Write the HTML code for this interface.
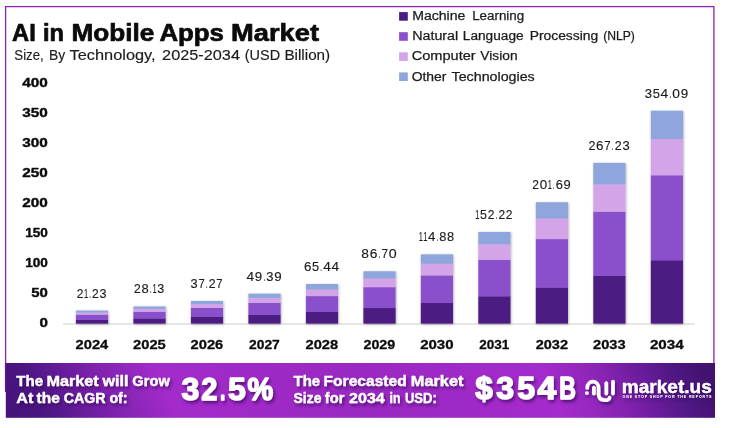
<!DOCTYPE html>
<html lang="en"><head><meta charset="utf-8"><title>AI in Mobile Apps Market</title>
<style>html,body{margin:0;padding:0;background:#fff}body{width:729px;height:428px;overflow:hidden}svg{display:block}text{font-family:"Liberation Sans", sans-serif;white-space:pre}.b{font-weight:700}</style>
</head><body>
<svg width="729" height="428" viewBox="0 0 729 428">
<defs>
<linearGradient id="bg" x1="5" y1="390" x2="595.4" y2="124.3" gradientUnits="userSpaceOnUse"><stop offset="0" stop-color="#46137c"/><stop offset="0.04" stop-color="#4b1583"/><stop offset="0.13" stop-color="#7a20aa"/><stop offset="0.225" stop-color="#a32bcb"/><stop offset="0.5" stop-color="#9a28c2"/><stop offset="0.77" stop-color="#a42bcc"/><stop offset="0.85" stop-color="#8a24b4"/><stop offset="0.905" stop-color="#6a1c9c"/><stop offset="0.955" stop-color="#4e1782"/><stop offset="1" stop-color="#41126f"/></linearGradient>
<filter id="sh" x="-20%" y="-20%" width="140%" height="140%"><feDropShadow dx="0.6" dy="0.8" stdDeviation="1" flood-color="#000" flood-opacity="0.35"/></filter>
<filter id="ts" x="-10%" y="-20%" width="120%" height="150%"><feDropShadow dx="1.7" dy="2.5" stdDeviation="1.5" flood-color="#2a0050" flood-opacity="0.6"/></filter>
</defs>
<rect width="729" height="428" fill="#fff"/>
<rect x="5.6" y="6.6" width="708.3" height="380" fill="#fff" stroke="#8e24aa" stroke-width="1.3"/>
<rect x="5.8" y="363" width="709.2" height="54.8" fill="url(#bg)"/>
<rect x="4.95" y="363" width="1.3" height="29" fill="#5a1a96"/>
<text y="40.8" font-size="23.8" class="b" fill="#0b0b0b" stroke="#0b0b0b" stroke-width="0.7" stroke-linejoin="round"><tspan x="12.08" textLength="23.71" lengthAdjust="spacingAndGlyphs">AI</tspan> <tspan x="42.97" textLength="21.00" lengthAdjust="spacingAndGlyphs">in</tspan> <tspan x="71.48" textLength="82.90" lengthAdjust="spacingAndGlyphs">Mobile</tspan> <tspan x="159.48" textLength="64.51" lengthAdjust="spacingAndGlyphs">Apps</tspan> <tspan x="231.08" textLength="87.90" lengthAdjust="spacingAndGlyphs">Market</tspan></text>
<text y="59.8" font-size="13.8" fill="#1c1c1c" stroke="#1c1c1c" stroke-width="0.15" stroke-linejoin="round"><tspan x="14.34" textLength="29.34" lengthAdjust="spacingAndGlyphs">Size,</tspan> <tspan x="48.94" textLength="16.14" lengthAdjust="spacingAndGlyphs">By</tspan> <tspan x="69.64" textLength="85.93" lengthAdjust="spacingAndGlyphs">Technology,</tspan> <tspan x="162.14" textLength="77.84" lengthAdjust="spacingAndGlyphs">2025-2034</tspan> <tspan x="244.74" textLength="35.34" lengthAdjust="spacingAndGlyphs">(USD</tspan> <tspan x="284.44" textLength="45.74" lengthAdjust="spacingAndGlyphs">Billion)</tspan></text>
<text y="327.2" font-size="13.3" class="b" fill="#0b0b0b" stroke="#0b0b0b" stroke-width="0.4" stroke-linejoin="round"><tspan x="39.40" textLength="8.44" lengthAdjust="spacingAndGlyphs">0</tspan></text>
<text y="297.1" font-size="13.3" class="b" fill="#0b0b0b" stroke="#0b0b0b" stroke-width="0.4" stroke-linejoin="round"><tspan x="31.20" textLength="16.64" lengthAdjust="spacingAndGlyphs">50</tspan></text>
<text y="267.1" font-size="13.3" class="b" fill="#0b0b0b" stroke="#0b0b0b" stroke-width="0.4" stroke-linejoin="round"><tspan x="25.20" textLength="22.64" lengthAdjust="spacingAndGlyphs">100</tspan></text>
<text y="237.0" font-size="13.3" class="b" fill="#0b0b0b" stroke="#0b0b0b" stroke-width="0.4" stroke-linejoin="round"><tspan x="25.20" textLength="22.64" lengthAdjust="spacingAndGlyphs">150</tspan></text>
<text y="206.9" font-size="13.3" class="b" fill="#0b0b0b" stroke="#0b0b0b" stroke-width="0.4" stroke-linejoin="round"><tspan x="22.30" textLength="25.54" lengthAdjust="spacingAndGlyphs">200</tspan></text>
<text y="176.8" font-size="13.3" class="b" fill="#0b0b0b" stroke="#0b0b0b" stroke-width="0.4" stroke-linejoin="round"><tspan x="22.30" textLength="25.54" lengthAdjust="spacingAndGlyphs">250</tspan></text>
<text y="146.8" font-size="13.3" class="b" fill="#0b0b0b" stroke="#0b0b0b" stroke-width="0.4" stroke-linejoin="round"><tspan x="22.30" textLength="25.54" lengthAdjust="spacingAndGlyphs">300</tspan></text>
<text y="116.7" font-size="13.3" class="b" fill="#0b0b0b" stroke="#0b0b0b" stroke-width="0.4" stroke-linejoin="round"><tspan x="22.30" textLength="25.54" lengthAdjust="spacingAndGlyphs">350</tspan></text>
<text y="86.6" font-size="13.3" class="b" fill="#0b0b0b" stroke="#0b0b0b" stroke-width="0.4" stroke-linejoin="round"><tspan x="22.30" textLength="25.54" lengthAdjust="spacingAndGlyphs">400</tspan></text>
<rect x="63.2" y="323.4" width="631.5" height="1.2" fill="#d6d6d6"/>
<g filter="url(#sh)">
<rect x="75.9" y="319.51" width="32.2" height="4.09" fill="#4b1a82"/>
<rect x="75.9" y="314.42" width="32.2" height="5.40" fill="#8a4fcb"/>
<rect x="75.9" y="312.24" width="32.2" height="2.48" fill="#d3a5e8"/>
<rect x="75.9" y="310.55" width="32.2" height="1.98" fill="#8fa6dc"/>
<rect x="133.4" y="318.28" width="32.2" height="5.32" fill="#4b1a82"/>
<rect x="133.4" y="311.53" width="32.2" height="7.06" fill="#8a4fcb"/>
<rect x="133.4" y="308.64" width="32.2" height="3.19" fill="#d3a5e8"/>
<rect x="133.4" y="306.41" width="32.2" height="2.53" fill="#8fa6dc"/>
<rect x="190.9" y="316.65" width="32.2" height="6.95" fill="#4b1a82"/>
<rect x="190.9" y="307.70" width="32.2" height="9.25" fill="#8a4fcb"/>
<rect x="190.9" y="303.88" width="32.2" height="4.13" fill="#d3a5e8"/>
<rect x="190.9" y="300.92" width="32.2" height="3.25" fill="#8fa6dc"/>
<rect x="248.4" y="314.49" width="32.2" height="9.11" fill="#4b1a82"/>
<rect x="248.4" y="302.63" width="32.2" height="12.16" fill="#8a4fcb"/>
<rect x="248.4" y="297.56" width="32.2" height="5.37" fill="#d3a5e8"/>
<rect x="248.4" y="293.65" width="32.2" height="4.21" fill="#8fa6dc"/>
<rect x="305.9" y="311.63" width="32.2" height="11.97" fill="#4b1a82"/>
<rect x="305.9" y="295.91" width="32.2" height="16.02" fill="#8a4fcb"/>
<rect x="305.9" y="289.20" width="32.2" height="7.02" fill="#d3a5e8"/>
<rect x="305.9" y="284.01" width="32.2" height="5.49" fill="#8fa6dc"/>
<rect x="363.4" y="307.84" width="32.2" height="15.76" fill="#4b1a82"/>
<rect x="363.4" y="287.02" width="32.2" height="21.12" fill="#8a4fcb"/>
<rect x="363.4" y="278.12" width="32.2" height="9.20" fill="#d3a5e8"/>
<rect x="363.4" y="271.25" width="32.2" height="7.17" fill="#8fa6dc"/>
<rect x="420.8" y="302.81" width="32.2" height="20.79" fill="#4b1a82"/>
<rect x="420.8" y="275.23" width="32.2" height="27.89" fill="#8a4fcb"/>
<rect x="420.8" y="263.43" width="32.2" height="12.09" fill="#d3a5e8"/>
<rect x="420.8" y="254.33" width="32.2" height="9.40" fill="#8fa6dc"/>
<rect x="478.3" y="296.16" width="32.2" height="27.44" fill="#4b1a82"/>
<rect x="478.3" y="259.60" width="32.2" height="36.86" fill="#8a4fcb"/>
<rect x="478.3" y="243.97" width="32.2" height="15.93" fill="#d3a5e8"/>
<rect x="478.3" y="231.91" width="32.2" height="12.36" fill="#8fa6dc"/>
<rect x="535.8" y="287.33" width="32.2" height="36.27" fill="#4b1a82"/>
<rect x="535.8" y="238.90" width="32.2" height="48.74" fill="#8a4fcb"/>
<rect x="535.8" y="218.19" width="32.2" height="21.01" fill="#d3a5e8"/>
<rect x="535.8" y="202.21" width="32.2" height="16.28" fill="#8fa6dc"/>
<rect x="593.3" y="275.65" width="32.2" height="47.95" fill="#4b1a82"/>
<rect x="593.3" y="211.47" width="32.2" height="64.48" fill="#8a4fcb"/>
<rect x="593.3" y="184.03" width="32.2" height="27.74" fill="#d3a5e8"/>
<rect x="593.3" y="162.86" width="32.2" height="21.48" fill="#8fa6dc"/>
<rect x="650.8" y="260.16" width="32.2" height="63.44" fill="#4b1a82"/>
<rect x="650.8" y="175.12" width="32.2" height="85.34" fill="#8a4fcb"/>
<rect x="650.8" y="138.77" width="32.2" height="36.65" fill="#d3a5e8"/>
<rect x="650.8" y="110.70" width="32.2" height="28.36" fill="#8fa6dc"/>
</g>
<text y="297.6" font-size="13.3" fill="#1c1c1c" stroke="#1c1c1c" stroke-width="0.15" stroke-linejoin="round"><tspan x="76.74" textLength="6.72" lengthAdjust="spacingAndGlyphs">2</tspan><tspan x="84.02" textLength="4.20" lengthAdjust="spacingAndGlyphs">1</tspan><tspan x="89.23" textLength="1.54" lengthAdjust="spacingAndGlyphs">.</tspan><tspan x="91.99" textLength="6.72" lengthAdjust="spacingAndGlyphs">2</tspan><tspan x="99.47" textLength="7.01" lengthAdjust="spacingAndGlyphs">3</tspan></text>
<text y="349.2" font-size="13.4" class="b" fill="#0b0b0b" stroke="#0b0b0b" stroke-width="0.3" stroke-linejoin="round"><tspan x="75.58" textLength="32.67" lengthAdjust="spacingAndGlyphs">2024</tspan></text>
<text y="293.4" font-size="13.3" fill="#1c1c1c" stroke="#1c1c1c" stroke-width="0.15" stroke-linejoin="round"><tspan x="133.93" textLength="6.75" lengthAdjust="spacingAndGlyphs">2</tspan><tspan x="141.43" textLength="7.23" lengthAdjust="spacingAndGlyphs">8</tspan><tspan x="149.88" textLength="1.55" lengthAdjust="spacingAndGlyphs">.</tspan><tspan x="152.45" textLength="4.22" lengthAdjust="spacingAndGlyphs">1</tspan><tspan x="157.23" textLength="7.04" lengthAdjust="spacingAndGlyphs">3</tspan></text>
<text y="349.2" font-size="13.4" class="b" fill="#0b0b0b" stroke="#0b0b0b" stroke-width="0.3" stroke-linejoin="round"><tspan x="133.06" textLength="32.67" lengthAdjust="spacingAndGlyphs">2025</tspan></text>
<text y="287.9" font-size="13.3" fill="#1c1c1c" stroke="#1c1c1c" stroke-width="0.15" stroke-linejoin="round"><tspan x="190.57" textLength="7.14" lengthAdjust="spacingAndGlyphs">3</tspan><tspan x="198.47" textLength="6.25" lengthAdjust="spacingAndGlyphs">7</tspan><tspan x="205.94" textLength="1.60" lengthAdjust="spacingAndGlyphs">.</tspan><tspan x="208.75" textLength="6.85" lengthAdjust="spacingAndGlyphs">2</tspan><tspan x="216.35" textLength="6.25" lengthAdjust="spacingAndGlyphs">7</tspan></text>
<text y="349.2" font-size="13.4" class="b" fill="#0b0b0b" stroke="#0b0b0b" stroke-width="0.3" stroke-linejoin="round"><tspan x="190.55" textLength="32.67" lengthAdjust="spacingAndGlyphs">2026</tspan></text>
<text y="280.6" font-size="13.3" fill="#1c1c1c" stroke="#1c1c1c" stroke-width="0.15" stroke-linejoin="round"><tspan x="246.46" textLength="7.65" lengthAdjust="spacingAndGlyphs">4</tspan><tspan x="254.87" textLength="7.41" lengthAdjust="spacingAndGlyphs">9</tspan><tspan x="263.49" textLength="1.62" lengthAdjust="spacingAndGlyphs">.</tspan><tspan x="266.32" textLength="7.21" lengthAdjust="spacingAndGlyphs">3</tspan><tspan x="274.29" textLength="7.41" lengthAdjust="spacingAndGlyphs">9</tspan></text>
<text y="349.2" font-size="13.4" class="b" fill="#0b0b0b" stroke="#0b0b0b" stroke-width="0.3" stroke-linejoin="round"><tspan x="249.00" textLength="30.77" lengthAdjust="spacingAndGlyphs">2027</tspan></text>
<text y="271.0" font-size="13.3" fill="#1c1c1c" stroke="#1c1c1c" stroke-width="0.15" stroke-linejoin="round"><tspan x="303.95" textLength="7.37" lengthAdjust="spacingAndGlyphs">6</tspan><tspan x="312.08" textLength="7.07" lengthAdjust="spacingAndGlyphs">5</tspan><tspan x="320.36" textLength="1.61" lengthAdjust="spacingAndGlyphs">.</tspan><tspan x="323.19" textLength="7.62" lengthAdjust="spacingAndGlyphs">4</tspan><tspan x="331.57" textLength="7.62" lengthAdjust="spacingAndGlyphs">4</tspan></text>
<text y="349.2" font-size="13.4" class="b" fill="#0b0b0b" stroke="#0b0b0b" stroke-width="0.3" stroke-linejoin="round"><tspan x="305.53" textLength="32.67" lengthAdjust="spacingAndGlyphs">2028</tspan></text>
<text y="258.2" font-size="13.3" fill="#1c1c1c" stroke="#1c1c1c" stroke-width="0.15" stroke-linejoin="round"><tspan x="361.34" textLength="7.66" lengthAdjust="spacingAndGlyphs">8</tspan><tspan x="369.76" textLength="7.66" lengthAdjust="spacingAndGlyphs">6</tspan><tspan x="378.63" textLength="1.73" lengthAdjust="spacingAndGlyphs">.</tspan><tspan x="381.57" textLength="6.53" lengthAdjust="spacingAndGlyphs">7</tspan><tspan x="388.86" textLength="7.92" lengthAdjust="spacingAndGlyphs">0</tspan></text>
<text y="349.2" font-size="13.4" class="b" fill="#0b0b0b" stroke="#0b0b0b" stroke-width="0.3" stroke-linejoin="round"><tspan x="363.43" textLength="31.87" lengthAdjust="spacingAndGlyphs">2029</tspan></text>
<text y="241.3" font-size="13.3" fill="#1c1c1c" stroke="#1c1c1c" stroke-width="0.15" stroke-linejoin="round"><tspan x="418.63" textLength="4.17" lengthAdjust="spacingAndGlyphs">1</tspan><tspan x="423.16" textLength="4.17" lengthAdjust="spacingAndGlyphs">1</tspan><tspan x="427.89" textLength="7.39" lengthAdjust="spacingAndGlyphs">4</tspan><tspan x="436.49" textLength="1.52" lengthAdjust="spacingAndGlyphs">.</tspan><tspan x="439.22" textLength="7.14" lengthAdjust="spacingAndGlyphs">8</tspan><tspan x="447.12" textLength="7.14" lengthAdjust="spacingAndGlyphs">8</tspan></text>
<text y="349.2" font-size="13.4" class="b" fill="#0b0b0b" stroke="#0b0b0b" stroke-width="0.3" stroke-linejoin="round"><tspan x="420.17" textLength="33.37" lengthAdjust="spacingAndGlyphs">2030</tspan></text>
<text y="218.9" font-size="13.3" fill="#1c1c1c" stroke="#1c1c1c" stroke-width="0.15" stroke-linejoin="round"><tspan x="475.37" textLength="4.18" lengthAdjust="spacingAndGlyphs">1</tspan><tspan x="480.11" textLength="6.88" lengthAdjust="spacingAndGlyphs">5</tspan><tspan x="487.75" textLength="6.68" lengthAdjust="spacingAndGlyphs">2</tspan><tspan x="495.64" textLength="1.53" lengthAdjust="spacingAndGlyphs">.</tspan><tspan x="498.38" textLength="6.68" lengthAdjust="spacingAndGlyphs">2</tspan><tspan x="505.82" textLength="6.68" lengthAdjust="spacingAndGlyphs">2</tspan></text>
<text y="349.2" font-size="13.4" class="b" fill="#0b0b0b" stroke="#0b0b0b" stroke-width="0.3" stroke-linejoin="round"><tspan x="479.31" textLength="30.07" lengthAdjust="spacingAndGlyphs">2031</tspan></text>
<text y="189.2" font-size="13.3" fill="#1c1c1c" stroke="#1c1c1c" stroke-width="0.15" stroke-linejoin="round"><tspan x="532.31" textLength="6.68" lengthAdjust="spacingAndGlyphs">2</tspan><tspan x="539.75" textLength="7.41" lengthAdjust="spacingAndGlyphs">0</tspan><tspan x="547.72" textLength="4.18" lengthAdjust="spacingAndGlyphs">1</tspan><tspan x="552.91" textLength="1.53" lengthAdjust="spacingAndGlyphs">.</tspan><tspan x="555.65" textLength="7.17" lengthAdjust="spacingAndGlyphs">6</tspan><tspan x="563.58" textLength="7.17" lengthAdjust="spacingAndGlyphs">9</tspan></text>
<text y="349.2" font-size="13.4" class="b" fill="#0b0b0b" stroke="#0b0b0b" stroke-width="0.3" stroke-linejoin="round"><tspan x="535.70" textLength="32.27" lengthAdjust="spacingAndGlyphs">2032</tspan></text>
<text y="149.9" font-size="13.3" fill="#1c1c1c" stroke="#1c1c1c" stroke-width="0.15" stroke-linejoin="round"><tspan x="588.40" textLength="6.94" lengthAdjust="spacingAndGlyphs">2</tspan><tspan x="596.10" textLength="7.44" lengthAdjust="spacingAndGlyphs">6</tspan><tspan x="604.30" textLength="6.34" lengthAdjust="spacingAndGlyphs">7</tspan><tspan x="611.85" textLength="1.64" lengthAdjust="spacingAndGlyphs">.</tspan><tspan x="614.70" textLength="6.94" lengthAdjust="spacingAndGlyphs">2</tspan><tspan x="622.40" textLength="7.24" lengthAdjust="spacingAndGlyphs">3</tspan></text>
<text y="349.2" font-size="13.4" class="b" fill="#0b0b0b" stroke="#0b0b0b" stroke-width="0.3" stroke-linejoin="round"><tspan x="593.04" textLength="32.57" lengthAdjust="spacingAndGlyphs">2033</tspan></text>
<text y="97.7" font-size="13.3" fill="#1c1c1c" stroke="#1c1c1c" stroke-width="0.15" stroke-linejoin="round"><tspan x="644.74" textLength="7.24" lengthAdjust="spacingAndGlyphs">3</tspan><tspan x="652.74" textLength="7.14" lengthAdjust="spacingAndGlyphs">5</tspan><tspan x="660.64" textLength="7.69" lengthAdjust="spacingAndGlyphs">4</tspan><tspan x="669.54" textLength="1.64" lengthAdjust="spacingAndGlyphs">.</tspan><tspan x="672.39" textLength="7.69" lengthAdjust="spacingAndGlyphs">0</tspan><tspan x="680.84" textLength="7.44" lengthAdjust="spacingAndGlyphs">9</tspan></text>
<text y="349.2" font-size="13.4" class="b" fill="#0b0b0b" stroke="#0b0b0b" stroke-width="0.3" stroke-linejoin="round"><tspan x="649.93" textLength="33.77" lengthAdjust="spacingAndGlyphs">2034</tspan></text>
<rect x="399.1" y="12.1" width="8.7" height="8.6" fill="#4b1a82"/>
<text y="20.3" font-size="12.5" fill="#1c1c1c" stroke="#1c1c1c" stroke-width="0.25" stroke-linejoin="round"><tspan x="412.16" textLength="53.19" lengthAdjust="spacingAndGlyphs">Machine</tspan> <tspan x="472.16" textLength="52.00" lengthAdjust="spacingAndGlyphs">Learning</tspan></text>
<rect x="399.1" y="32.2" width="8.7" height="8.6" fill="#8a4fcb"/>
<text y="40.4" font-size="12.5" fill="#1c1c1c" stroke="#1c1c1c" stroke-width="0.25" stroke-linejoin="round"><tspan x="412.16" textLength="46.09" lengthAdjust="spacingAndGlyphs">Natural</tspan> <tspan x="462.86" textLength="60.70" lengthAdjust="spacingAndGlyphs">Language</tspan> <tspan x="529.66" textLength="68.59" lengthAdjust="spacingAndGlyphs">Processing</tspan> <tspan x="603.16" textLength="31.70" lengthAdjust="spacingAndGlyphs">(NLP)</tspan></text>
<rect x="399.1" y="52.3" width="8.7" height="8.6" fill="#d3a5e8"/>
<text y="60.4" font-size="12.5" fill="#1c1c1c" stroke="#1c1c1c" stroke-width="0.25" stroke-linejoin="round"><tspan x="411.66" textLength="63.99" lengthAdjust="spacingAndGlyphs">Computer</tspan> <tspan x="480.36" textLength="37.19" lengthAdjust="spacingAndGlyphs">Vision</tspan></text>
<rect x="399.1" y="72.4" width="8.7" height="8.6" fill="#8fa6dc"/>
<text y="80.5" font-size="12.5" fill="#1c1c1c" stroke="#1c1c1c" stroke-width="0.25" stroke-linejoin="round"><tspan x="411.66" textLength="34.80" lengthAdjust="spacingAndGlyphs">Other</tspan> <tspan x="451.56" textLength="83.20" lengthAdjust="spacingAndGlyphs">Technologies</tspan></text>
<g fill="#fff" filter="url(#ts)">
<text y="386.0" font-size="14.4" class="b" stroke="#fff" stroke-width="0.35" stroke-linejoin="round"><tspan x="16.39" textLength="26.85" lengthAdjust="spacingAndGlyphs">The</tspan> <tspan x="46.49" textLength="52.25" lengthAdjust="spacingAndGlyphs">Market</tspan> <tspan x="102.54" textLength="25.91" lengthAdjust="spacingAndGlyphs">will</tspan> <tspan x="132.39" textLength="37.42" lengthAdjust="spacingAndGlyphs">Grow</tspan></text>
<text y="403.2" font-size="14.4" class="b" stroke="#fff" stroke-width="0.35" stroke-linejoin="round"><tspan x="16.39" textLength="16.96" lengthAdjust="spacingAndGlyphs">At</tspan> <tspan x="36.59" textLength="23.15" lengthAdjust="spacingAndGlyphs">the</tspan> <tspan x="63.79" textLength="41.86" lengthAdjust="spacingAndGlyphs">CAGR</tspan> <tspan x="109.39" textLength="18.25" lengthAdjust="spacingAndGlyphs">of:</tspan></text>
<text y="400.0" font-size="31.3" class="b" stroke="#fff" stroke-width="1.4" stroke-linejoin="round"><tspan x="181.55" textLength="17.82" lengthAdjust="spacingAndGlyphs">3</tspan><tspan x="201.35" textLength="16.12" lengthAdjust="spacingAndGlyphs">2</tspan><tspan x="219.95" textLength="5.41" lengthAdjust="spacingAndGlyphs">.</tspan><tspan x="227.95" textLength="17.82" lengthAdjust="spacingAndGlyphs">5</tspan><tspan x="247.45" textLength="25.72" lengthAdjust="spacingAndGlyphs">%</tspan></text>
<text y="385.7" font-size="14.4" class="b" stroke="#fff" stroke-width="0.35" stroke-linejoin="round"><tspan x="293.59" textLength="26.55" lengthAdjust="spacingAndGlyphs">The</tspan> <tspan x="323.59" textLength="83.06" lengthAdjust="spacingAndGlyphs">Forecasted</tspan> <tspan x="410.89" textLength="52.55" lengthAdjust="spacingAndGlyphs">Market</tspan></text>
<text y="403.0" font-size="14.4" class="b" stroke="#fff" stroke-width="0.35" stroke-linejoin="round"><tspan x="293.59" textLength="27.85" lengthAdjust="spacingAndGlyphs">Size</tspan> <tspan x="324.89" textLength="19.45" lengthAdjust="spacingAndGlyphs">for</tspan> <tspan x="349.09" textLength="35.65" lengthAdjust="spacingAndGlyphs">2034</tspan> <tspan x="389.49" textLength="10.95" lengthAdjust="spacingAndGlyphs">in</tspan> <tspan x="404.89" textLength="31.96" lengthAdjust="spacingAndGlyphs">USD:</tspan></text>
<text y="398.6" font-size="30.6" class="b" stroke="#fff" stroke-width="1.4" stroke-linejoin="round"><tspan x="475.25" textLength="17.52" lengthAdjust="spacingAndGlyphs">$</tspan><tspan x="496.35" textLength="17.82" lengthAdjust="spacingAndGlyphs">3</tspan><tspan x="517.35" textLength="17.92" lengthAdjust="spacingAndGlyphs">5</tspan><tspan x="537.45" textLength="18.72" lengthAdjust="spacingAndGlyphs">4</tspan><tspan x="559.25" textLength="16.62" lengthAdjust="spacingAndGlyphs">B</tspan></text>
<text y="392.7" font-size="17.5" class="b" stroke="#fff" stroke-width="0.35" stroke-linejoin="round"><tspan x="621.79" textLength="89.95" lengthAdjust="spacingAndGlyphs">market.us</tspan></text>
<text x="622.5" y="398.3" font-size="3.6" class="b" textLength="89" lengthAdjust="spacing">ONE STOP SHOP FOR THE REPORTS</text>
<g fill="none" stroke="#fff" stroke-width="3.7" stroke-linecap="round" stroke-linejoin="round">
<path d="M587.2 388 C587.2 379.5 598.6 379.5 598.6 388 L598.6 394.5 C598.6 401.5 609.6 401.5 609.6 397.5"/>
<path d="M593.9 387.6 L593.9 393.6"/>
<path d="M606.3 383.2 L606.3 393.6"/>
<path d="M613 381.6 L613 393.6"/>
</g>
<circle cx="586.9" cy="393.1" r="1.9" stroke="none"/>
</g>
</svg>
</body></html>
